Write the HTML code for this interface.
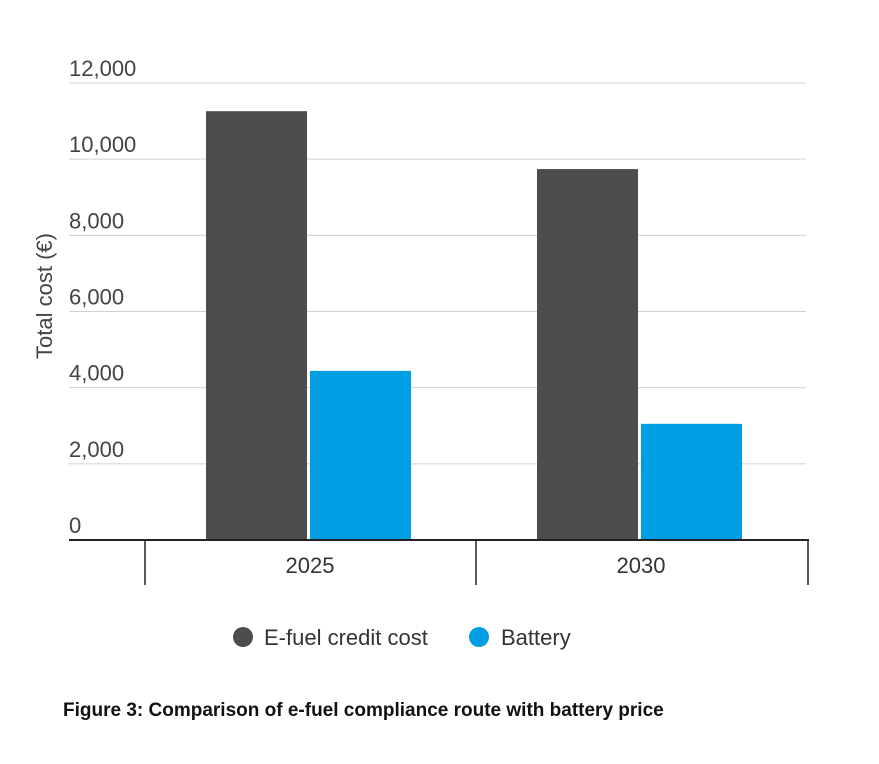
<!DOCTYPE html>
<html><head><meta charset="utf-8"><style>
body{margin:0;background:#fff;font-family:"Liberation Sans",sans-serif;}
svg text{font-family:"Liberation Sans",sans-serif;}
</style></head><body>
<svg id="chart" width="879" height="759">
<g id="grid"></g><g id="bars"></g><g id="axis"></g>
<text transform="translate(52,296) rotate(-90)" text-anchor="middle" font-size="22" fill="#444">Total cost (€)</text>
<g>
<circle cx="243" cy="637" r="10" fill="#4d4d4d"/>
<text x="264" y="645" font-size="22" fill="#333">E-fuel credit cost</text>
<circle cx="479" cy="637" r="10" fill="#009fe3"/>
<text x="501" y="645" font-size="22" fill="#333">Battery</text>
</g>
<text x="63" y="716" font-size="19" font-weight="bold" fill="#111">Figure 3: Comparison of e-fuel compliance route with battery price</text>
</svg>
<script>
const categories=["2025","2030"];
const efuel=[11260,9740];
const battery=[4440,3050];
const ticks=[0,2000,4000,6000,8000,10000,12000];
const tickLabels=["0","2,000","4,000","6,000","8,000","10,000","12,000"];
const NS="http://www.w3.org/2000/svg";
const y=v=>540-v/12000*457;
const bandX=i=>145+i*331;
function mk(tag,attrs,parent){const e=document.createElementNS(NS,tag);for(const k in attrs)e.setAttribute(k,attrs[k]);parent.appendChild(e);return e;}
const grid=document.getElementById('grid'),bars=document.getElementById('bars'),axis=document.getElementById('axis');
ticks.forEach((t,i)=>{
 if(t>0){const l=mk('line',{x1:69,x2:806,y1:y(t),y2:y(t),stroke:'#d0d0d0','stroke-width':1},grid);
 
 }
 const tx=mk('text',{x:69,y:y(t)-7,'font-size':22,fill:'#444'},grid);
 
 
 tx.textContent=tickLabels[i];
});
categories.forEach((c,i)=>{
 const x0=bandX(i)+61;
 const b1=mk('rect',{x:x0,y:y(efuel[i]),width:101,height:540-y(efuel[i]),fill:'#4d4d4d'},bars);
 
 
 const b2=mk('rect',{x:x0+104,y:y(battery[i]),width:101,height:540-y(battery[i]),fill:'#009fe3'},bars);
 
 
 const lb=mk('text',{x:bandX(i)+165,y:573,'font-size':22,fill:'#333','text-anchor':'middle'},axis);
 
 
 lb.textContent=c;
});
const al=mk('line',{x1:69,x2:809,y1:540,y2:540,stroke:'#222','stroke-width':2},axis);


[145,476,808].forEach(x=>{const s=mk('line',{x1:x,x2:x,y1:540,y2:585,stroke:'#222','stroke-width':1.5},axis);
 
 });
</script>
</body></html>
